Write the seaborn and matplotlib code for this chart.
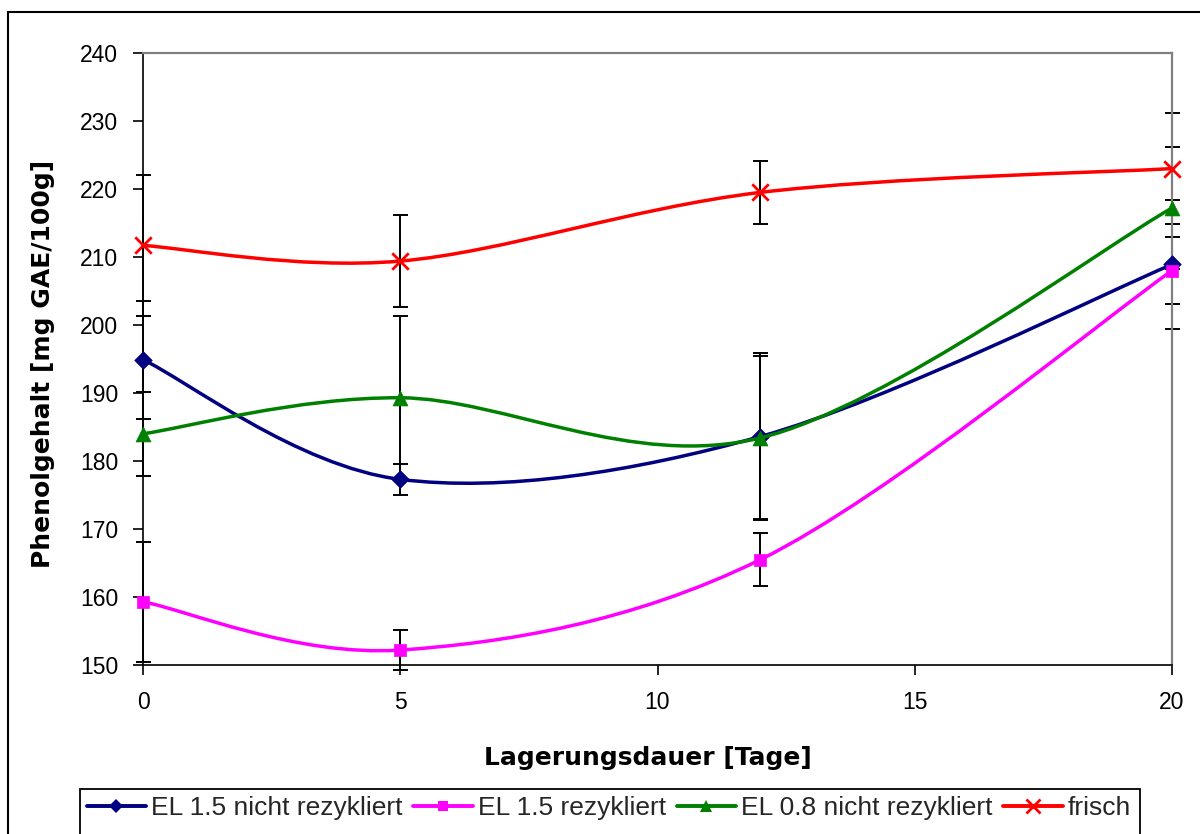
import numpy as np
import pandas as pd
import matplotlib
matplotlib.use("Agg")
import matplotlib.pyplot as plt
from matplotlib.path import Path
from matplotlib.patches import PathPatch, Rectangle
from matplotlib.lines import Line2D
import seaborn as sns

# Storage time in days
days = [0, 5, 12, 20]

series_names = ["EL 1.5 nicht rezykliert", "EL 1.5 rezykliert",
                "EL 0.8 nicht rezykliert", "frisch"]

# Phenol content [mg GAE/100g] and error bar half-widths
el15_nicht = [194.9, 177.3, 183.6, 208.9]
el15_nicht_err = [8.7, 2.3, 12.3, 9.5]
el15_rez = [159.3, 152.2, 165.5, 208.0]
el15_rez_err = [8.8, 2.9, 3.9, 4.9]
el08_nicht = [184.0, 189.3, 183.4, 217.2]
el08_nicht_err = [6.2, 12.0, 12.0, 9.0]
frisch = [211.7, 209.4, 219.5, 223.0]
frisch_err = [10.4, 6.8, 4.6, 8.2]

x_ticks = [0, 5, 10, 15, 20]
y_ticks = [150, 160, 170, 180, 190, 200, 210, 220, 230, 240]

sns.set_theme(style="white")
plt.rcParams["font.family"] = ["Liberation Sans", "DejaVu Sans"]

colors = ["#000080", "#FF00FF", "#008000", "#FF0000"]
markers = ["D", "s", "^", "x"]
marker_area = [80, 85, 115, 140]

frames = []
for name, vals, errs in zip(series_names,
                            [el15_nicht, el15_rez, el08_nicht, frisch],
                            [el15_nicht_err, el15_rez_err, el08_nicht_err, frisch_err]):
    frames.append(pd.DataFrame({"Tage": days, "Phenol": vals, "err": errs, "Serie": name}))
df = pd.concat(frames, ignore_index=True)


def smooth_path(xs, ys):
    """Spreadsheet-style smoothed line: cubic Bezier through every point."""
    pts = np.column_stack([xs, ys]).astype(float)
    n = len(pts)
    verts = [pts[0]]
    codes = [Path.MOVETO]
    for i in range(n - 1):
        p_prev = pts[i - 1] if i > 0 else pts[i]
        p_next2 = pts[i + 2] if i + 2 < n else pts[i + 1]
        c1 = pts[i] + (pts[i + 1] - p_prev) / 6.0
        c2 = pts[i + 1] - (p_next2 - pts[i]) / 6.0
        verts += [c1, c2, pts[i + 1]]
        codes += [Path.CURVE4] * 3
    return Path(verts, codes)


fig = plt.figure(figsize=(12, 8.34), dpi=100)
ax = fig.add_axes([143 / 1200, 1 - 665 / 834, (1172 - 143) / 1200, (665 - 53) / 834])

for k, name in enumerate(series_names):
    sub = df[df["Serie"] == name]
    ax.errorbar(sub["Tage"], sub["Phenol"], yerr=sub["err"], fmt="none",
                ecolor="black", elinewidth=1.4, capsize=5.4, capthick=1.4,
                zorder=2, clip_on=False)

for k, name in enumerate(series_names):
    sub = df[df["Serie"] == name]
    patch = PathPatch(smooth_path(sub["Tage"].values, sub["Phenol"].values),
                      facecolor="none", edgecolor=colors[k], lw=2.5,
                      zorder=3 + k, capstyle="round", joinstyle="round")
    ax.add_patch(patch)
    if markers[k] == "x":
        sns.scatterplot(x=sub["Tage"], y=sub["Phenol"], ax=ax, marker="x",
                        color=colors[k], s=marker_area[k], linewidth=2.0,
                        zorder=3.5 + k, clip_on=False, legend=False)
    else:
        sns.scatterplot(x=sub["Tage"], y=sub["Phenol"], ax=ax, marker=markers[k],
                        color=colors[k], s=marker_area[k], linewidth=0.5,
                        edgecolor=colors[k], zorder=3.5 + k, clip_on=False,
                        legend=False)

ax.set_xlim(0, 20)
ax.set_ylim(150, 240)
ax.set_xticks(x_ticks)
ax.set_yticks(y_ticks)
ax.set_xlabel("")
ax.set_ylabel("")
ax.grid(False)
ax.set_facecolor("white")

for side in ["left", "bottom"]:
    ax.spines[side].set_color("black")
    ax.spines[side].set_linewidth(1.2)
for side in ["top", "right"]:
    ax.spines[side].set_color("#808080")
    ax.spines[side].set_linewidth(1.6)

ax.tick_params(axis="both", which="major", direction="out", length=7, width=1.2,
               color="black", labelsize=16.5, labelcolor="black",
               bottom=True, left=True, top=False, right=False)
ax.tick_params(axis="y", pad=11)
ax.tick_params(axis="x", pad=12)

fig.text(648 / 1200, 1 - 758 / 834, "Lagerungsdauer [Tage]", ha="center", va="center",
         fontsize=18, fontweight="bold", family="DejaVu Sans", color="black")
fig.text(43 / 1200, 1 - 364 / 834, "Phenolgehalt [mg GAE/100g]", ha="center",
         va="center", rotation=90, fontsize=18, fontweight="bold",
         family="DejaVu Sans", color="black")

legend_ms = [7.5, 7.5, 8.5, 9.5]
handles = [Line2D([], [], color=colors[k], lw=2.8, marker=markers[k],
                  markersize=legend_ms[k],
                  markeredgewidth=2.0 if markers[k] == "x" else 0.0,
                  markeredgecolor=colors[k])
           for k in range(len(series_names))]
fig.legend(handles, series_names, loc="center", bbox_to_anchor=(609 / 1200, 1 - 808 / 834),
           ncol=4, frameon=False, fontsize=19, handlelength=2.25, handletextpad=0.2,
           columnspacing=0.4, borderpad=0.2)

# Legend frame, running off the lower edge
fig.patches.append(Rectangle((80 / 1200, 1 - 850 / 834), 1060 / 1200, (850 - 789) / 834,
                             transform=fig.transFigure, fill=False,
                             edgecolor="black", lw=1.3, zorder=0))
# Chart area border
fig.patches.append(Rectangle((8 / 1200, -0.05), 1.2, 1.05 - 12 / 834,
                             transform=fig.transFigure, fill=False,
                             edgecolor="black", lw=1.5, zorder=0))

fig.savefig("out.png", dpi=100, facecolor="white")
